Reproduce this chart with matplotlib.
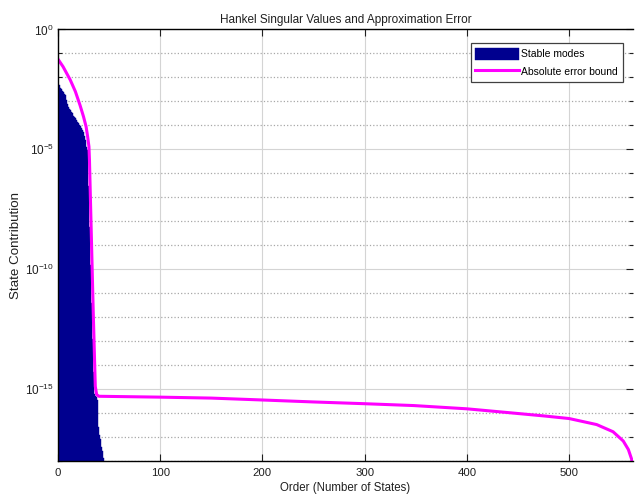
import numpy as np
import matplotlib.pyplot as plt
from matplotlib.ticker import FixedLocator, NullFormatter

plt.rcParams['font.family'] = ['Liberation Sans', 'DejaVu Sans']
plt.rcParams['mathtext.default'] = 'regular'
plt.rcParams['axes.unicode_minus'] = False

# Hankel singular values of the stable modes, order 1..46
hsv = [4.9e-3, 3.6e-3, 3.2e-3, 2.8e-3, 2.5e-3, 2.1e-3, 1.9e-3, 1.2e-3,
       8.0e-4, 6.0e-4, 5.0e-4, 4.2e-4, 3.7e-4, 3.2e-4, 2.5e-4, 2.3e-4,
       2.0e-4, 1.7e-4, 1.4e-4, 1.25e-4, 1.05e-4, 9.0e-5, 7.5e-5, 6.3e-5,
       5.5e-5, 3.5e-5, 2.5e-5, 1.3e-5, 9.0e-6, 3.0e-7, 6.0e-9, 1.5e-10,
       4.0e-12, 1.2e-13, 5.0e-15, 6.0e-16, 5.0e-16, 4.5e-16, 3.5e-16,
       2.5e-17, 1.2e-17, 8.0e-18, 4.0e-18, 2.5e-18, 1.3e-18, 5.0e-19]
orders = np.arange(1, len(hsv) + 1)

# absolute error bound vs. reduced order
bound_order = [0, 5, 12, 17, 21.5, 25, 27.5, 29, 30.3, 30.8, 34.5, 36.5,
               37.8, 40, 100, 150, 200, 250, 300, 348, 400, 445, 475, 500,
               527, 543, 553, 558, 561.3, 562]
bound_value = [5.8e-2, 2.8e-2, 7.9e-3, 2.6e-3, 7.1e-4, 2.3e-4, 8.9e-5,
               3.4e-5, 1.3e-5, 3.6e-6, 1.6e-12, 1.3e-15, 5.9e-16, 5.0e-16,
               4.6e-16, 4.2e-16, 3.5e-16, 2.9e-16, 2.45e-16, 2.05e-16,
               1.5e-16, 1.0e-16, 7.6e-17, 5.9e-17, 3.3e-17, 1.66e-17,
               6.8e-18, 3.0e-18, 1.15e-18, 3e-19]

fig = plt.figure(figsize=(6.35, 4.99), dpi=100)
ax = fig.add_axes([0.0913, 0.0762, 0.9055, 0.8647])

bars = ax.bar(orders, hsv, width=1.0, bottom=1e-22, color='#00008f',
              edgecolor='#00008f', linewidth=0.3)
line, = ax.plot(bound_order, bound_value, color='#ff00ff', linewidth=2.2)

ax.set_yscale('log')
ax.set_xlim(0, 562.5)
ax.set_ylim(1e-18, 1)

major_y = [1e-15, 1e-10, 1e-5, 1e0]
ax.yaxis.set_major_locator(FixedLocator(major_y))
ax.set_yticklabels(['$10^{-15}$', '$10^{-10}$', '$10^{-5}$', '$10^{0}$'])
minor_y = [10.0 ** k for k in range(-18, 1) if k % 5 != 0]
ax.yaxis.set_minor_locator(FixedLocator(minor_y))
ax.yaxis.set_minor_formatter(NullFormatter())
ax.set_xticks([0, 100, 200, 300, 400, 500])

ax.tick_params(which='both', direction='in', top=True, right=True,
               colors='#202020', width=0.8)
ax.tick_params(which='major', length=5)
ax.tick_params(which='minor', length=3)
ax.tick_params(axis='x', labelsize=8.2, pad=5)
ax.tick_params(axis='y', labelsize=8.5, pad=3)

ax.set_axisbelow(True)
ax.grid(True, which='major', color='#d4d4d4', linestyle='-', linewidth=0.8)
ax.grid(True, which='minor', axis='y', color='#a8a8a8', linestyle=':',
        linewidth=0.9)
for side in ['top', 'left', 'bottom']:
    ax.spines[side].set_color('black')
    ax.spines[side].set_linewidth(1.0)
ax.spines['right'].set_visible(False)

ax.set_title('Hankel Singular Values and Approximation Error', fontsize=8.5,
             color='#202020', pad=5)
ax.set_xlabel('Order (Number of States)', fontsize=8.3, color='#202020',
              labelpad=3)
ax.set_ylabel('State Contribution', fontsize=9.6, color='#202020',
              labelpad=2)

leg = ax.legend([bars, line], ['Stable modes', 'Absolute error bound'],
                loc='upper right', bbox_to_anchor=(0.982, 0.968),
                borderaxespad=0, fontsize=7.5, handlelength=4.2,
                handleheight=1.4, handletextpad=0.2, borderpad=0.45,
                labelspacing=0.5, fancybox=False, framealpha=1)
leg.get_frame().set_edgecolor('#404040')
leg.get_frame().set_linewidth(0.9)

fig.savefig('out.png', dpi=100)
